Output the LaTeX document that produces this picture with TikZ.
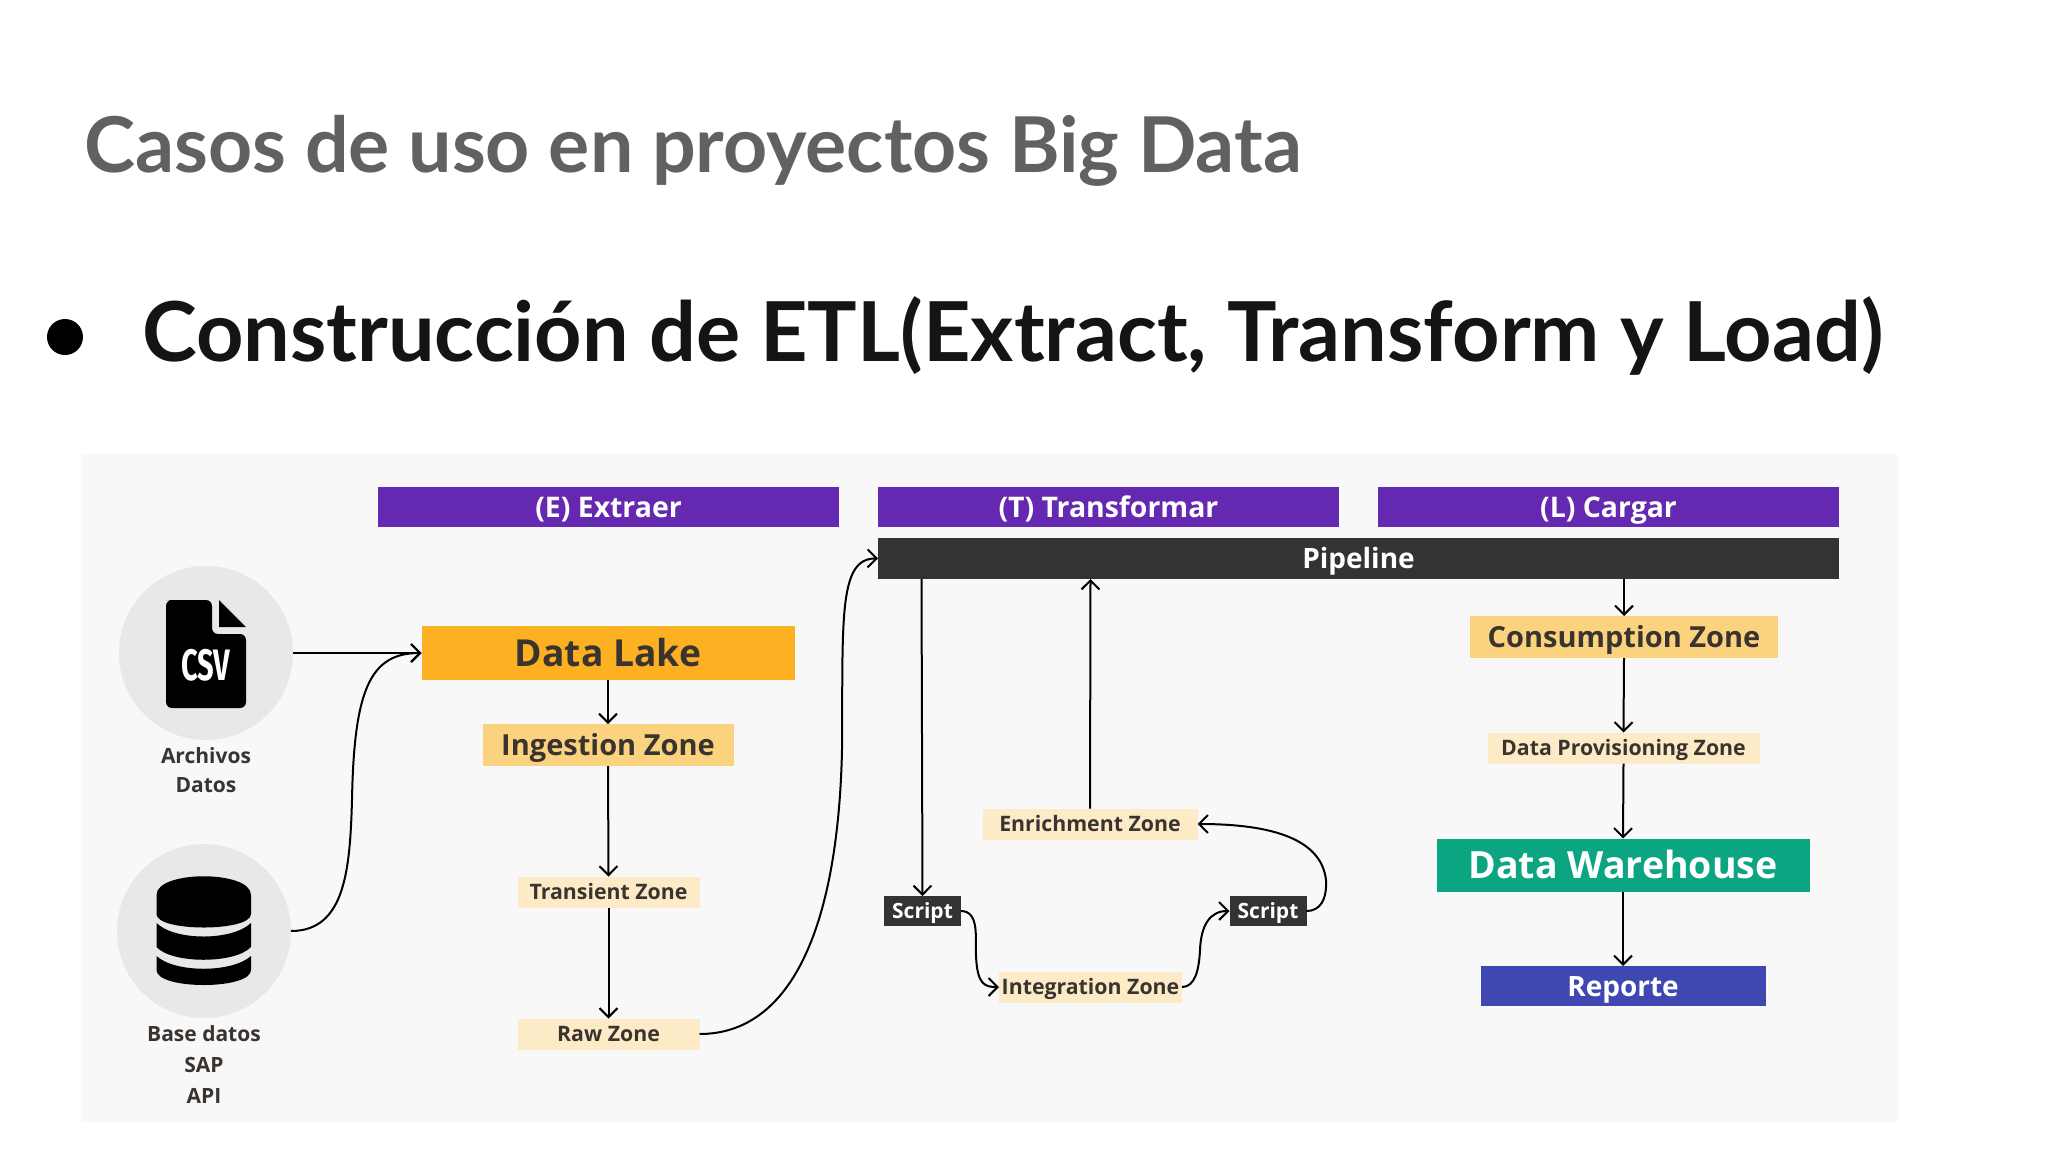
\documentclass[tikz,border=0pt]{standalone}
\usepackage{fontspec}
\setmainfont{Open Sans}
\newfontfamily\latof{Lato}
\usetikzlibrary{arrows.meta}
\definecolor{panelc}{HTML}{F8F8F9}
\definecolor{purplec}{HTML}{6429B0}
\definecolor{pipec}{HTML}{333333}
\definecolor{lakec}{HTML}{FDB022}
\definecolor{ingc}{HTML}{FBD27E}
\definecolor{zonec}{HTML}{FDEBC8}
\definecolor{whc}{HTML}{0CA582}
\definecolor{repc}{HTML}{3F48B0}
\definecolor{circc}{HTML}{E8E8E8}
\definecolor{inkc}{HTML}{3A3430}
\newcommand{\fs}[1]{\fontsize{#1}{#1}\selectfont}
\tikzset{
  boxn/.style={inner sep=0pt,outer sep=0pt,align=center,font=\bfseries\fs{#1},text height=#1*0.714pt,text depth=0pt},
  conn/.style={line width=2pt,-{Straight Barb[length=9pt,width=18pt,line width=2pt]},black},
  head/.style={boxn=28.4,fill=purplec,text=white,minimum width=461pt,minimum height=40pt},
  smallz/.style={boxn=21.3,fill=zonec,text=inkc,minimum height=31pt},
  scr/.style={boxn=21,fill=pipec,text=white,minimum width=77pt,minimum height=30pt},
  lbl/.style={inner sep=0pt,align=center,font=\bfseries\fs{21},text=inkc},
}
\begin{document}
\begin{tikzpicture}[x=1pt,y=-1pt]
\useasboundingbox (0,0) rectangle (2048,1152);
\fill[white] (0,0) rectangle (2048,1152);
\node[anchor=base west,inner sep=0pt,text=black!62,font=\latof\bfseries\fs{77}] (title) at (84,172) {Casos de uso en proyectos Big Data};
\fill[black] (65,337) circle (18);
\node[anchor=base west,inner sep=0pt,text=black!92,font=\latof\bfseries\fs{82.7}] (sub) at (142,361) {Construcción de ETL(Extract, Transform y Load)};
\fill[panelc] (81,454) rectangle (1898,1122);

\node[head] (he) at (608.5,507) {(E) Extraer};
\node[head] (ht) at (1108.5,507) {(T) Transformar};
\node[head] (hl) at (1608.5,507) {(L) Cargar};
\node[boxn=28,fill=pipec,text=white,minimum width=961pt,minimum height=41pt] (pipe) at (1358.5,558.5) {Pipeline};

\node[circle,fill=circc,minimum size=174pt,inner sep=0pt,outer sep=0pt] (csv) at (206,653) {};
\node[circle,fill=circc,minimum size=174pt,inner sep=0pt,outer sep=0pt] (db) at (204,931) {};
% csv icon
\fill[black,rounded corners=6pt] (212,600) -- (172,600) -- (166,600) -- (166,708) -- (246,708) -- (246,634) -- (212,634) -- cycle;
\fill[black] (219,600) -- (246,627) -- (219,627) -- cycle;
\node[inner sep=0pt,text=white,xscale=.66,transform shape,font=\fontspec{Fira Sans}\bfseries\fs{44}] (csvt) at (206,665) {CSV};
% database icon
\begin{scope}[yshift=2pt]
\fill[black] (156.5,897) .. controls (156.5,872) and (251,872) .. (251,897) -- (251,916) .. controls (251,934) and (156.5,934) .. (156.5,916) -- cycle;
\fill[black] (156.5,925) .. controls (175,943) and (232,943) .. (251,925) -- (251,949) .. controls (235,966) and (172,966) .. (156.5,949) -- cycle;
\fill[black] (156.5,958) .. controls (175,975) and (232,975) .. (251,958) -- (251,972) .. controls (251,992) and (156.5,992) .. (156.5,972) -- cycle;
\end{scope}

\node[lbl] (arch) at (206,755.5) {Archivos};
\node[lbl] (dat) at (206,785) {Datos};
\node[lbl] (base) at (204,1033.5) {Base datos};
\node[lbl] (sap) at (204,1064.5) {SAP};
\node[lbl] (api) at (204,1095.5) {API};

\node[boxn=37.2,fill=lakec,text=inkc,minimum width=373pt,minimum height=54pt] (lake) at (608,653) {Data Lake};
\node[boxn=29,fill=ingc,text=inkc,minimum width=251pt,minimum height=42pt] (ing) at (608,745) {Ingestion Zone};
\node[smallz,minimum width=182pt] (trans) at (608.5,892) {Transient Zone};
\node[smallz,minimum width=182pt] (raw) at (608.5,1034) {Raw Zone};

\node[scr] (s1) at (922.5,911) {Script};
\node[scr] (s2) at (1268,911) {Script};
\node[smallz,minimum width=215pt] (enr) at (1090,824) {Enrichment Zone};
\node[smallz,minimum width=183pt] (int) at (1090.5,987) {Integration Zone};

\node[boxn=29,fill=ingc,text=inkc,minimum width=308pt,minimum height=42pt] (con) at (1624,637) {Consumption Zone};
\node[smallz,minimum width=272pt] (prov) at (1623.5,748) {Data Provisioning Zone};
\node[boxn=37.5,fill=whc,text=white,minimum width=373pt,minimum height=53pt] (wh) at (1623,865) {Data Warehouse};
\node[boxn=28,fill=repc,text=white,minimum width=285pt,minimum height=40pt] (rep) at (1623,986) {Reporte};

\draw[conn] (csv.east) -- (lake.west);
\draw[conn] (db.east) .. controls (345,931) and (350,870) .. (352,800) .. controls (354,690) and (370,653) .. (lake.west);
\draw[conn] (lake.south) -- (ing.north);
\draw[conn] (ing.south) -- (trans.north);
\draw[conn] (trans.south) -- (raw.north);
\draw[conn] (raw.east) .. controls (790,1034) and (838,930) .. (842,750) .. controls (843,620) and (838,558) .. (pipe.west);
\coordinate (pd) at (921.5,579);
\coordinate (pu) at (1090.5,579);
\coordinate (pc) at (1624,579);
\draw[conn] (pd) -- (s1.north);
\draw[conn] (enr.north) -- (pu);
\draw[conn] (s1.east) .. controls (980,911) and (975,940) .. (976,955) .. controls (977,985) and (985,987) .. (int.west);
\draw[conn] (int.east) .. controls (1195,987) and (1199,970) .. (1200,950) .. controls (1201,925) and (1210,911) .. (s2.west);
\draw[conn] (s2.east) .. controls (1320,911) and (1327,900) .. (1326,880) .. controls (1322,845) and (1285,824) .. (enr.east);
\draw[conn] (pc) -- (con.north);
\draw[conn] (con.south) -- (prov.north);
\draw[conn] (prov.south) -- (wh.north);
\draw[conn] (wh.south) -- (rep.north);
\end{tikzpicture}
\end{document}
